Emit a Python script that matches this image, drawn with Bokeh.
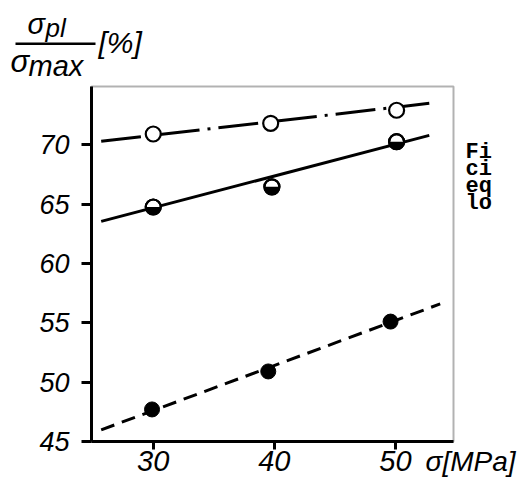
import math
from bokeh.plotting import figure
from bokeh.models import Range1d, FixedTicker, Label, BoxAnnotation
from bokeh.embed import file_html
from bokeh.resources import INLINE

# ---- data ----
x_open = [30.0, 39.7, 50.1]
y_open = [70.9, 71.8, 72.9]
x_half = [30.0, 39.8, 50.1]
y_half = [64.75, 66.45, 70.25]
x_full = [29.9, 39.5, 49.6]
y_full = [47.7, 50.9, 55.1]

fit_open_x = [25.7, 52.8]
fit_open_y = [70.28, 73.48]
fit_half_x = [25.7, 52.8]
fit_half_y = [63.54, 70.78]
fit_full_x = [25.7, 53.7]
fit_full_y = [45.98, 56.59]

x_ticks = [30, 40, 50]
y_ticks = [45, 50, 55, 60, 65, 70]
caption_lines = ["Fi", "ci", "eq", "lo"]

# axes box (data units)
X0, X1 = 24.9, 54.8
Y0, Y1 = 45.0, 74.9

FONT = "Liberation Sans"
W, H = 527, 477
FL, FB = 91, 36            # pixel position of the axes box inside the canvas
PX_X = 362 / (X1 - X0)     # pixels per x unit
PX_Y = 355 / (Y1 - Y0)     # pixels per y unit

p = figure(width=W, height=H,
           x_range=Range1d(X0 - FL / PX_X, X0 + (W - FL) / PX_X),
           y_range=Range1d(Y0 - FB / PX_Y, Y0 + (H - FB) / PX_Y),
           output_backend="svg", toolbar_location=None,
           min_border=0, min_border_left=0, min_border_right=0, min_border_top=0, min_border_bottom=0)
p.grid.visible = False
p.background_fill_color = "white"
p.border_fill_color = "white"
p.outline_line_color = None

for ax in (p.xaxis, p.yaxis):
    ax.axis_line_width = 3
    ax.major_tick_line_width = 3
    ax.major_tick_in = 0
    ax.minor_tick_line_color = None
    ax.major_label_text_font = FONT
    ax.major_label_text_font_style = "italic"
    ax.major_label_text_color = "black"

p.yaxis.fixed_location = X0
p.yaxis.bounds = (Y0, Y1)
p.yaxis.ticker = FixedTicker(ticks=y_ticks)
p.yaxis.major_tick_out = 10
p.yaxis.major_label_standoff = 12
p.yaxis.major_label_text_font_size = "27px"

p.xaxis.fixed_location = Y0
p.xaxis.bounds = (X0, X1)
p.xaxis.ticker = FixedTicker(ticks=x_ticks)
p.xaxis.major_tick_out = 8
p.xaxis.major_label_standoff = 1
p.xaxis.major_label_text_font_size = "29px"

# thin frame (top and right sides)
p.add_layout(BoxAnnotation(left=X0, right=X1, bottom=Y0, top=Y1, fill_color=None,
                           line_color="black", line_width=2))

# fitted lines
p.line(fit_open_x, fit_open_y, line_color="black", line_width=3, line_dash="40 8 3 8")
p.line(fit_half_x, fit_half_y, line_color="black", line_width=3)
p.line(fit_full_x, fit_full_y, line_color="black", line_width=3, line_dash="14 8")

# markers
p.scatter(x_open, y_open, marker="circle", size=15, fill_color="white", line_color="black", line_width=2.2)
p.scatter(x_half, y_half, marker="circle", size=15, fill_color="white", line_color="black", line_width=2.2)
p.wedge(x=x_half, y=y_half, radius=7.5, radius_units="screen", start_angle=math.pi,
        end_angle=2 * math.pi, fill_color="black", line_color=None)
p.scatter(x_half, y_half, marker="circle", size=15, fill_color=None, line_color="black", line_width=2.2)
p.scatter(x_full, y_full, marker="circle", size=15, fill_color="black", line_color="black", line_width=1)


def lab(x, y, t, size, baseline="top", style="italic", font=FONT):
    p.add_layout(Label(x=x, y=y, x_units="screen", y_units="screen", text=t,
                       text_baseline=baseline, text_align="left", text_font=font,
                       text_font_style=style, text_font_size=size, text_color="black"))


# x axis title
lab(425, 32, "σ[MPa]", "28px")

# y axis title as a fraction
lab(27, 470, "σ", "29px")
lab(45, 464.6, "pl", "26px")
lab(10, 434, "σ", "31px")
lab(28, 428, "max", "29px")
lab(98, 452, "[%]", "30px")
p.add_layout(BoxAnnotation(left=X0 - (FL - 15) / PX_X, right=X0 + 4 / PX_X,
                           bottom=Y0 + (441 - 44.5) / PX_Y,
                           top=Y0 + (441 - 42) / PX_Y,
                           fill_color="black", fill_alpha=1, line_color=None))

# truncated caption on the right
for i, t in enumerate(caption_lines):
    lab(465, 325 - 17 * i, t, "22px", baseline="alphabetic", style="bold", font="Liberation Mono")

open("out.html", "w").write(file_html(p, INLINE))
